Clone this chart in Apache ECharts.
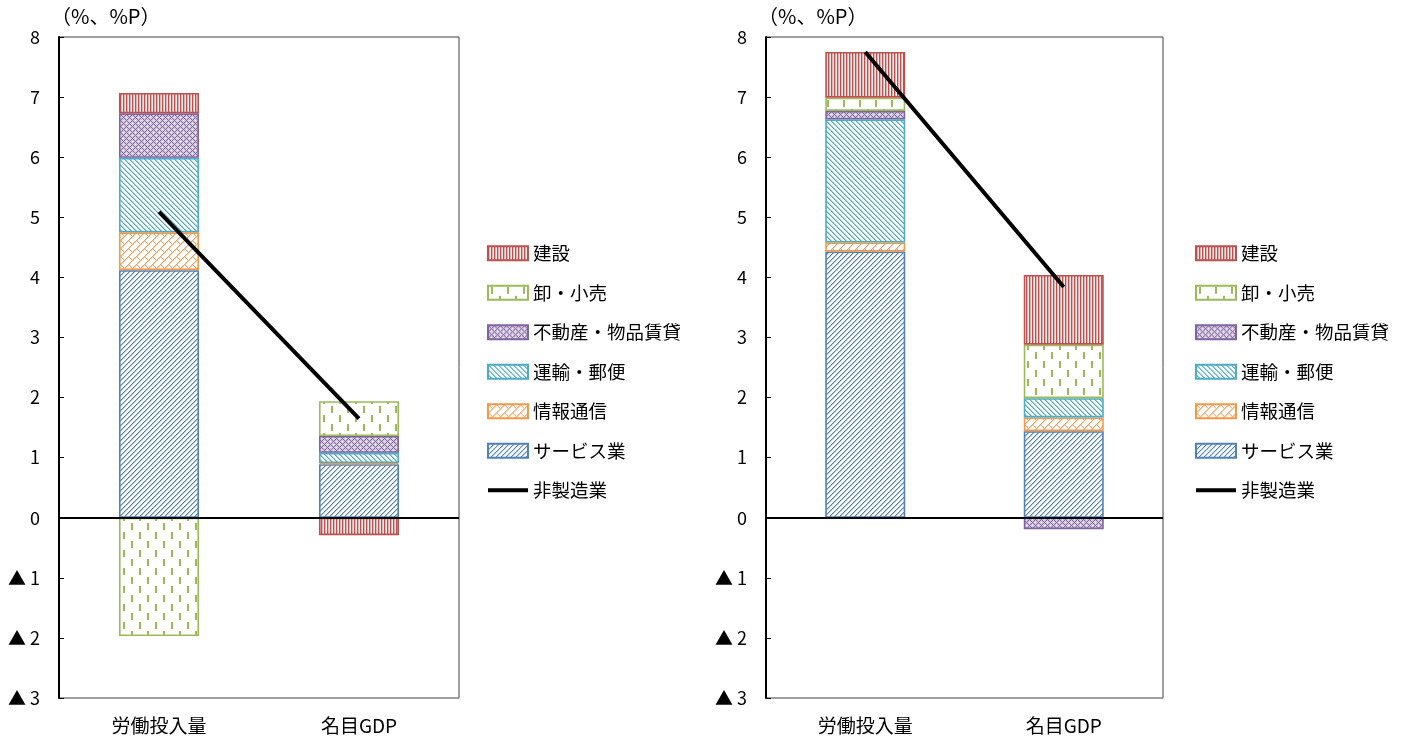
<!DOCTYPE html>
<html>
<head>
<meta charset="utf-8">
<script src="https://cdn.jsdelivr.net/npm/echarts@6/dist/echarts.min.js"></script>
<style>
  html, body { margin: 0; padding: 0; background: #fff; }
  #chart { width: 1404px; height: 747px; }
</style>
</head>
<body>
<div id="chart"></div>
<script>
// Categories and tick labels
const categories = ['労働投入量', '名目GDP'];
const yTicks = [-3, -2, -1, 0, 1, 2, 3, 4, 5, 6, 7, 8];
const unitLabel = '（%、%P）';
const seriesNames = ['建設', '卸・小売', '不動産・物品賃貸', '運輸・郵便', '情報通信', 'サービス業', '非製造業'];

// Left panel contributions (%P)
const serviceL      = [4.12, 0.89];
const infoL         = [0.63, 0.02];
const transportL    = [1.24, 0.17];
const realEstateL   = [0.74, 0.28];
const tradeL        = [-1.97, 0.58];
const constructionL = [0.34, -0.29];
const nonMfgL       = [5.09, 1.65];

// Right panel contributions (%P)
const serviceR      = [4.43, 1.44];
const infoR         = [0.15, 0.23];
const transportR    = [2.05, 0.32];
const realEstateR   = [0.14, -0.19];
const tradeR        = [0.22, 0.89];
const constructionR = [0.76, 1.16];
const nonMfgR       = [7.75, 3.84];

const FONT = '"Noto Sans CJK JP", "Noto Sans", sans-serif';

// ---- hatch tiles drawn pixel by pixel ----
function hex(c) {
  return [parseInt(c.slice(1, 3), 16), parseInt(c.slice(3, 5), 16), parseInt(c.slice(5, 7), 16)];
}
function tile(w, h, fn) {
  const cv = document.createElement('canvas');
  cv.width = w; cv.height = h;
  const ctx = cv.getContext('2d');
  const img = ctx.createImageData(w, h);
  for (let y = 0; y < h; y++) {
    for (let x = 0; x < w; x++) {
      const c = fn(x, y); // [r,g,b]
      const i = (y * w + x) * 4;
      img.data[i] = c[0]; img.data[i + 1] = c[1]; img.data[i + 2] = c[2]; img.data[i + 3] = 255;
    }
  }
  ctx.putImageData(img, 0, 0);
  return cv;
}
function mix(c, t) { // t: 1 = full colour, 0 = white
  return c.map(v => Math.round(255 - (255 - v) * t));
}
const WHITE = [255, 255, 255];

const RED = '#C0504D', GREEN = '#9BBB59', PURPLE = '#8064A2', CYAN = '#4BACC6', ORANGE = '#F79646', BLUE = '#4F81BD';

// vertical stripes
const patRed = tile(3, 3, (x) => {
  const c = hex(RED);
  return x === 0 ? c : (x === 1 ? mix(c, 0.45) : mix(c, 0.1));
});
// staggered vertical dashes
const patGreen = tile(16, 18, (x, y) => {
  const c = hex(GREEN);
  if ((x === 3 || x === 4) && y >= 1 && y <= 7) return c;
  if ((x === 11 || x === 12) && y >= 10 && y <= 16) return c;
  return WHITE;
});
// small diamond lattice
const patPurple = tile(6, 6, (x, y) => {
  const c = hex(PURPLE);
  const a = (x + y) % 6, b = (x - y + 6) % 6;
  if (a === 0 || b === 0) return c;
  if (a === 3 && b === 3) return WHITE;
  return mix(c, 0.35);
});
// downward diagonal "\"
const patCyan = tile(5, 5, (x, y) => {
  const c = hex(CYAN);
  const d = (x - y + 5) % 5;
  return d === 0 ? c : (d === 1 ? mix(c, 0.55) : WHITE);
});
// upward diagonal "/"
const patBlue = tile(5, 5, (x, y) => {
  const c = hex(BLUE);
  const d = (x + y) % 5;
  return d === 0 ? c : (d === 1 ? mix(c, 0.45) : WHITE);
});
// diagonal brick: "/" rails joined by staggered "\" rungs
const patOrange = tile(16, 16, (x, y) => {
  const c = hex(ORANGE);
  const u = x + y, v = ((x - y) % 16 + 16) % 16;
  if (u % 8 === 0) return c;
  const row = Math.floor(u / 8) % 2;
  if (v === (row ? 8 : 0)) return c;
  if (u % 8 === 1) return mix(c, 0.35);
  return WHITE;
});

function pattern(cv) { return { image: cv, repeat: 'repeat' }; }

const styles = {
  '建設':           { fill: pattern(patRed), border: RED },
  '卸・小売':        { fill: pattern(patGreen), border: GREEN },
  '不動産・物品賃貸': { fill: pattern(patPurple), border: PURPLE },
  '運輸・郵便':      { fill: pattern(patCyan), border: CYAN },
  '情報通信':        { fill: pattern(patOrange), border: ORANGE },
  'サービス業':      { fill: pattern(patBlue), border: BLUE }
};

function barSeries(name, data, idx) {
  return {
    name: name,
    type: 'bar',
    xAxisIndex: idx, yAxisIndex: idx,
    stack: 'total' + idx,
    barWidth: 80,
    data: data,
    itemStyle: { color: styles[name].fill, borderColor: styles[name].border, borderWidth: 1.6 },
    emphasis: { disabled: true }
  };
}

function lineSeries(data, idx) {
  return {
    name: '非製造業',
    type: 'line',
    xAxisIndex: idx, yAxisIndex: idx,
    data: data,
    showSymbol: false,
    symbol: 'none',
    z: 10,
    lineStyle: { color: '#000', width: 4 },
    itemStyle: { color: '#000' },
    markLine: {
      silent: true,
      symbol: 'none',
      label: { show: false },
      lineStyle: { color: '#000', width: 2, type: 'solid' },
      data: [{ yAxis: 0 }]
    }
  };
}

function panelSeries(idx, s) {
  return [
    barSeries('サービス業', s.service, idx),
    barSeries('情報通信', s.info, idx),
    barSeries('運輸・郵便', s.transport, idx),
    barSeries('不動産・物品賃貸', s.realEstate, idx),
    barSeries('卸・小売', s.trade, idx),
    barSeries('建設', s.construction, idx),
    lineSeries(s.nonMfg, idx)
  ];
}

function xAxis(idx) {
  return {
    type: 'category', gridIndex: idx, data: categories,
    axisLine: { show: false }, axisTick: { show: false },
    axisLabel: { color: '#000', fontFamily: FONT, fontSize: 19, margin: 18 }
  };
}
function yAxis(idx) {
  return {
    type: 'value', gridIndex: idx,
    min: yTicks[0], max: yTicks[yTicks.length - 1], interval: 1,
    axisLine: { show: true, lineStyle: { color: '#000', width: 2 } },
    axisTick: { show: true, inside: true, length: 5, lineStyle: { color: '#000', width: 1 } },
    splitLine: { show: false },
    axisLabel: {
      color: '#000', fontFamily: FONT, fontSize: 18, margin: 19,
      formatter: v => v < 0 ? '▲ ' + (-v) : String(v)
    }
  };
}
function legend(left) {
  return {
    orient: 'vertical', left: left, top: 239,
    itemWidth: 40, itemHeight: 14, itemGap: 21,
    data: seriesNames.map(n => n === '非製造業'
      ? { name: n, icon: 'path://M0,6 L40,6 L40,10 L0,10 Z', itemStyle: { color: '#000' } }
      : { name: n, icon: 'rect' }),
    textStyle: { color: '#000', fontFamily: FONT, fontSize: 18.5, padding: [0, 0, 0, 0] },
    selectedMode: false
  };
}

const chart = echarts.init(document.getElementById('chart'), null, { renderer: 'canvas' });
chart.setOption({
  animation: false,
  backgroundColor: '#fff',
  title: [
    { text: unitLabel, left: 46, top: 1, textStyle: { fontFamily: FONT, fontSize: 20, fontWeight: 'normal', color: '#000' } },
    { text: unitLabel, left: 753, top: 1, textStyle: { fontFamily: FONT, fontSize: 20, fontWeight: 'normal', color: '#000' } }
  ],
  grid: [
    { left: 59, top: 37, width: 400, height: 661, show: true, borderColor: '#404040', borderWidth: 1, backgroundColor: 'transparent' },
    { left: 766, top: 37, width: 397, height: 661, show: true, borderColor: '#404040', borderWidth: 1, backgroundColor: 'transparent' }
  ],
  xAxis: [xAxis(0), xAxis(1)],
  yAxis: [yAxis(0), yAxis(1)],
  legend: [legend(482), legend(1190)],
  series: [
    ...panelSeries(0, { service: serviceL, info: infoL, transport: transportL, realEstate: realEstateL, trade: tradeL, construction: constructionL, nonMfg: nonMfgL }),
    ...panelSeries(1, { service: serviceR, info: infoR, transport: transportR, realEstate: realEstateR, trade: tradeR, construction: constructionR, nonMfg: nonMfgR })
  ]
});
</script>
</body>
</html>
